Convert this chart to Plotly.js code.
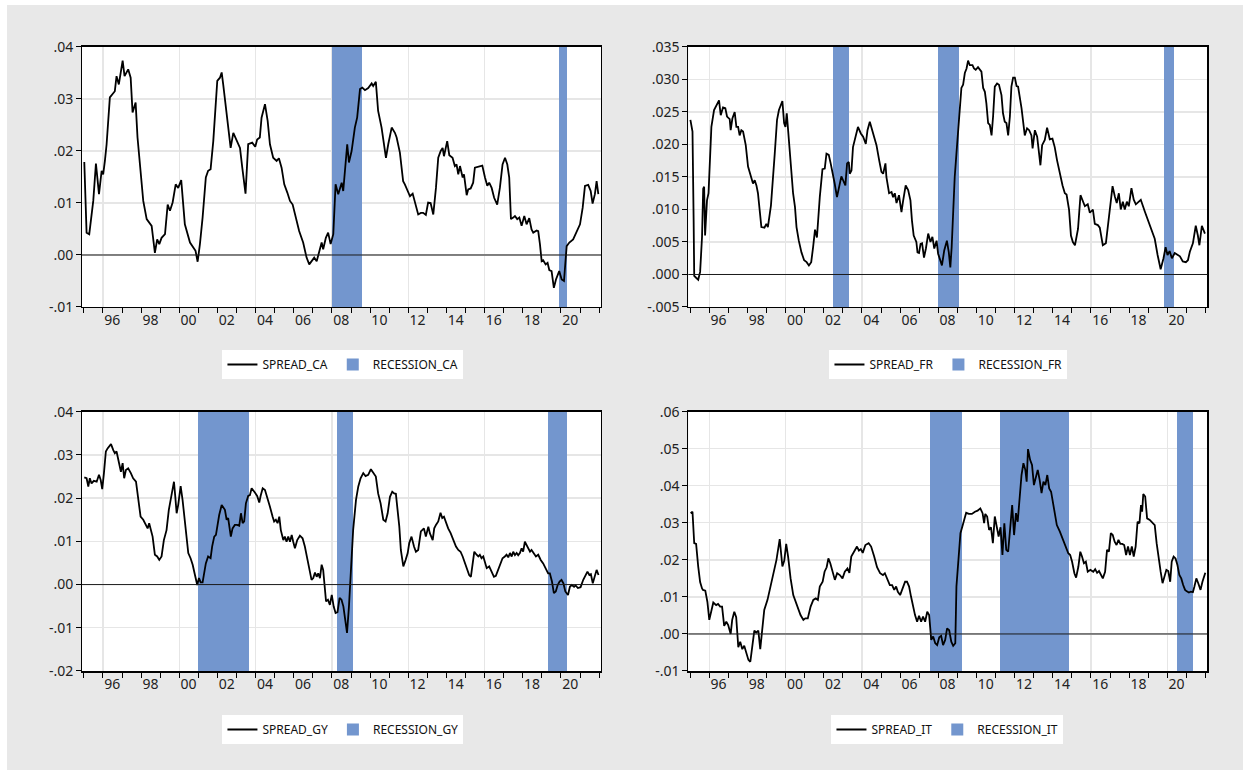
<!DOCTYPE html>
<html><head><meta charset="utf-8">
<script src="https://cdn.plot.ly/plotly-3.0.1.min.js"></script>
<style>
html,body{margin:0;padding:0;background:#fff;width:1250px;height:772px;overflow:hidden}
#chart{position:absolute;left:7px;top:5px;width:1236px;height:765px}
</style></head><body><div id="chart"></div>
<script>
// ---------- tick labels ----------
const yearTicks = [1995,1996,1997,1998,1999,2000,2001,2002,2003,2004,2005,2006,2007,2008,2009,2010,2011,2012,2013,2014,2015,2016,2017,2018,2019,2020,2021,2022];
const yearLabels = ['','96','','98','','00','','02','','04','','06','','08','','10','','12','','14','','16','','18','','20','',''];
const gridYears = [1996,2000,2004,2008,2012,2016,2020];

const yTicks_CA = [-0.01,0,0.01,0.02,0.03,0.04];
const yText_CA  = ['-.01','.00','.01','.02','.03','.04'];
const yTicks_FR = [-0.005,0,0.005,0.01,0.015,0.02,0.025,0.03,0.035];
const yText_FR  = ['-.005','.000','.005','.010','.015','.020','.025','.030','.035'];
const yTicks_GY = [-0.02,-0.01,0,0.01,0.02,0.03,0.04];
const yText_GY  = ['-.02','-.01','.00','.01','.02','.03','.04'];
const yTicks_IT = [-0.01,0,0.01,0.02,0.03,0.04,0.05,0.06];
const yText_IT  = ['-.01','.00','.01','.02','.03','.04','.05','.06'];

// ---------- recession periods (first month, last month) ----------
const recession_CA = [['2008-01','2009-07'],['2019-12','2020-04']];
const recession_FR = [['2002-07','2003-04'],['2008-01','2009-01'],['2019-11','2020-04']];
const recession_GY = [['2001-01','2003-08'],['2008-04','2009-01'],['2019-05','2020-04']];
const recession_IT = [['2007-08','2009-03'],['2011-04','2014-10'],['2020-07','2021-04']];

// ---------- spreads (time in years, value) ----------
const t_CA = [1995.02,1995.14,1995.28,1995.49,1995.63,1995.79,1995.93,1996.01,1996.10,1996.19,
1996.36,1996.62,1996.71,1996.83,1997.03,1997.13,1997.32,1997.45,1997.55,1997.71,
1997.81,1997.93,1998.11,1998.29,1998.55,1998.72,1998.84,1998.95,1999.07,1999.25,
1999.39,1999.51,1999.65,1999.81,1999.94,2000.10,2000.19,2000.29,2000.56,2000.73,
2000.85,2000.96,2001.08,2001.22,2001.34,2001.39,2001.51,2001.64,2001.78,2001.92,
2001.99,2002.13,2002.22,2002.30,2002.48,2002.69,2002.83,2003.03,2003.18,2003.30,
2003.47,2003.61,2003.82,2003.98,2004.08,2004.22,2004.31,2004.49,2004.63,2004.75,
2004.92,2005.10,2005.22,2005.36,2005.50,2005.66,2005.80,2005.94,2006.11,2006.28,
2006.49,2006.67,2006.81,2006.93,2007.07,2007.20,2007.32,2007.46,2007.54,2007.68,
2007.80,2007.93,2008.07,2008.19,2008.33,2008.51,2008.59,2008.80,2008.89,2009.03,
2009.20,2009.32,2009.47,2009.59,2009.73,2009.90,2010.08,2010.16,2010.30,2010.42,
2010.60,2010.83,2010.95,2011.13,2011.30,2011.39,2011.56,2011.73,2011.82,2012.00,
2012.09,2012.23,2012.35,2012.52,2012.66,2012.78,2012.92,2013.04,2013.17,2013.31,
2013.45,2013.57,2013.70,2013.80,2013.87,2013.97,2014.04,2014.15,2014.32,2014.44,
2014.53,2014.62,2014.71,2014.85,2014.92,2015.06,2015.14,2015.27,2015.40,2015.49,
2015.61,2015.75,2015.88,2016.02,2016.14,2016.24,2016.37,2016.50,2016.66,2016.80,
2016.94,2017.07,2017.19,2017.29,2017.38,2017.50,2017.59,2017.71,2017.82,2017.94,
2018.08,2018.20,2018.34,2018.46,2018.55,2018.73,2018.81,2018.90,2018.99,2019.07,
2019.20,2019.30,2019.39,2019.51,2019.63,2019.74,2019.91,2020.04,2020.16,2020.30,
2020.44,2020.64,2020.82,2021.00,2021.14,2021.26,2021.43,2021.56,2021.66,2021.78,
2021.87,2021.96];
const spread_CA = [.0179,.0043,.0040,.0104,.0176,.0117,.0162,.0155,.0181,.0213,
.0303,.0315,.0344,.0328,.0374,.0344,.0357,.0341,.0274,.0293,
.0226,.0181,.0104,.0069,.0056,.0004,.0030,.0021,.0033,.0040,
.0097,.0085,.0101,.0136,.0129,.0144,.0100,.0059,.0024,.0014,
.0008,-.0013,.0021,.0072,.0142,.0149,.0162,.0165,.0219,.0296,
.0335,.0341,.0351,.0328,.0271,.0206,.0235,.0219,.0206,.0168,
.0118,.0213,.0216,.0208,.0222,.0226,.0264,.0290,.0258,.0213,
.0187,.0181,.0186,.0168,.0136,.0120,.0104,.0097,.0072,.0046,
.0024,-.0005,-.0018,-.0012,-.0005,-.0012,.0004,.0024,.0011,.0033,
.0043,.0021,.0040,.0136,.0117,.0139,.0123,.0213,.0178,.0200,
.0245,.0264,.0319,.0322,.0317,.0321,.0330,.0325,.0333,.0277,
.0245,.0187,.0213,.0245,.0235,.0226,.0197,.0142,.0136,.0120,
.0113,.0118,.0101,.0078,.0081,.0081,.0077,.0101,.0100,.0078,
.0129,.0187,.0200,.0206,.0190,.0210,.0219,.0192,.0187,.0171,
.0174,.0155,.0171,.0149,.0155,.0115,.0126,.0128,.0139,.0168,
.0169,.0171,.0172,.0149,.0133,.0139,.0129,.0110,.0097,.0129,
.0174,.0187,.0174,.0149,.0069,.0072,.0075,.0069,.0072,.0056,
.0075,.0059,.0071,.0049,.0043,.0047,.0046,.0021,-.0012,-.0010,
-.0018,-.0015,-.0029,-.0031,-.0063,-.0047,-.0031,-.0047,-.0050,.0017,
.0024,.0030,.0046,.0059,.0091,.0133,.0135,.0123,.0099,.0117,
.0142,.0117];

const t_FR = [1995.01,1995.12,1995.18,1995.21,1995.31,1995.42,1995.52,1995.62,1995.68,1995.73,
1995.78,1995.88,1995.96,1996.03,1996.11,1996.25,1996.37,1996.51,1996.60,1996.72,
1996.84,1996.93,1997.07,1997.12,1997.21,1997.33,1997.42,1997.51,1997.59,1997.68,
1997.77,1997.91,1998.03,1998.17,1998.29,1998.38,1998.47,1998.55,1998.68,1998.73,
1998.89,1998.99,1999.07,1999.23,1999.43,1999.55,1999.65,1999.78,1999.83,1999.92,
1999.99,2000.06,2000.13,2000.25,2000.39,2000.49,2000.57,2000.69,2000.83,2000.97,
2001.10,2001.22,2001.34,2001.44,2001.54,2001.64,2001.73,2001.79,2001.93,2002.05,
2002.14,2002.26,2002.36,2002.48,2002.57,2002.69,2002.80,2002.92,2003.01,2003.13,
2003.22,2003.31,2003.36,2003.45,2003.53,2003.67,2003.79,2003.94,2004.06,2004.20,
2004.29,2004.41,2004.53,2004.63,2004.76,2004.90,2005.02,2005.11,2005.23,2005.28,
2005.42,2005.55,2005.63,2005.72,2005.81,2005.94,2006.07,2006.15,2006.29,2006.42,
2006.54,2006.62,2006.71,2006.85,2006.91,2006.99,2007.07,2007.15,2007.25,2007.35,
2007.47,2007.59,2007.69,2007.79,2007.91,2007.99,2008.09,2008.19,2008.31,2008.45,
2008.55,2008.63,2008.70,2008.76,2008.82,2008.86,2008.95,2009.09,2009.21,2009.30,
2009.39,2009.48,2009.56,2009.65,2009.79,2009.87,2009.96,2010.08,2010.17,2010.26,
2010.35,2010.44,2010.52,2010.61,2010.70,2010.79,2010.87,2010.96,2011.08,2011.18,
2011.31,2011.39,2011.48,2011.57,2011.66,2011.75,2011.83,2011.92,2012.01,2012.10,
2012.18,2012.36,2012.53,2012.65,2012.76,2012.88,2012.94,2013.06,2013.18,2013.27,
2013.35,2013.44,2013.58,2013.70,2013.84,2013.98,2014.10,2014.22,2014.37,2014.51,
2014.63,2014.72,2014.85,2014.95,2015.05,2015.16,2015.32,2015.45,2015.68,2015.83,
2015.94,2016.10,2016.20,2016.36,2016.46,2016.62,2016.78,2016.88,2016.99,2017.13,
2017.25,2017.35,2017.46,2017.56,2017.67,2017.77,2017.88,2017.98,2018.12,2018.24,
2018.35,2018.51,2018.61,2018.82,2018.98,2019.13,2019.34,2019.49,2019.65,2019.80,
2019.91,2020.01,2020.12,2020.24,2020.39,2020.55,2020.66,2020.81,2020.97,2021.08,
2021.18,2021.34,2021.49,2021.60,2021.68,2021.81,2021.97];
const spread_FR = [.0238,.0220,.0083,-.0002,-.0005,-.0008,.0004,.0058,.0132,.0135,
.0060,.0114,.0125,.0176,.0227,.0253,.0261,.0268,.0245,.0257,
.0256,.0243,.0239,.0222,.0240,.0250,.0227,.0227,.0214,.0222,
.0220,.0199,.0166,.0153,.0140,.0145,.0137,.0125,.0094,.0073,
.0072,.0078,.0073,.0106,.0186,.0238,.0253,.0266,.0267,.0233,
.0227,.0248,.0222,.0176,.0125,.0104,.0073,.0052,.0034,.0022,
.0019,.0014,.0019,.0042,.0069,.0057,.0104,.0119,.0162,.0163,
.0186,.0184,.0171,.0155,.0140,.0119,.0135,.0151,.0145,.0137,
.0171,.0173,.0155,.0160,.0196,.0212,.0227,.0217,.0212,.0201,
.0222,.0235,.0222,.0209,.0199,.0176,.0158,.0155,.0171,.0150,
.0125,.0127,.0119,.0125,.0110,.0122,.0096,.0112,.0137,.0130,
.0114,.0083,.0060,.0050,.0034,.0033,.0047,.0048,.0026,.0040,
.0063,.0050,.0058,.0040,.0052,.0032,.0023,.0014,.0037,.0052,
.0034,.0011,.0042,.0094,.0145,.0150,.0186,.0248,.0287,.0292,
.0310,.0317,.0329,.0322,.0322,.0317,.0315,.0319,.0316,.0312,
.0287,.0281,.0263,.0233,.0230,.0214,.0243,.0289,.0294,.0292,
.0276,.0248,.0235,.0233,.0214,.0243,.0289,.0303,.0303,.0290,
.0289,.0256,.0214,.0225,.0222,.0214,.0194,.0222,.0212,.0184,
.0168,.0199,.0207,.0226,.0208,.0209,.0196,.0176,.0153,.0137,
.0125,.0123,.0100,.0060,.0050,.0045,.0070,.0122,.0105,.0108,
.0095,.0100,.0078,.0076,.0072,.0045,.0048,.0075,.0100,.0136,
.0120,.0110,.0125,.0100,.0112,.0100,.0112,.0105,.0133,.0115,
.0108,.0112,.0115,.0097,.0085,.0072,.0055,.0030,.0008,.0025,
.0042,.0030,.0036,.0025,.0033,.0030,.0028,.0020,.0019,.0022,
.0035,.0048,.0075,.0060,.0045,.0075,.0063];

const t_GY = [1995.02,1995.14,1995.23,1995.31,1995.40,1995.52,1995.67,1995.79,1995.88,1995.96,
1996.05,1996.15,1996.24,1996.33,1996.42,1996.54,1996.62,1996.71,1996.83,1996.94,
1997.03,1997.11,1997.20,1997.32,1997.46,1997.58,1997.73,1997.85,1997.97,1998.11,
1998.25,1998.34,1998.42,1998.51,1998.60,1998.72,1998.84,1998.95,1999.07,1999.19,
1999.33,1999.45,1999.60,1999.72,1999.79,1999.86,1999.94,2000.07,2000.17,2000.26,
2000.38,2000.47,2000.59,2000.70,2000.82,2000.94,2001.03,2001.12,2001.22,2001.31,
2001.39,2001.51,2001.64,2001.72,2001.83,2001.92,2002.01,2002.09,2002.22,2002.30,
2002.39,2002.48,2002.56,2002.65,2002.70,2002.79,2002.91,2003.03,2003.14,2003.23,
2003.32,2003.40,2003.49,2003.61,2003.70,2003.79,2003.87,2003.96,2004.08,2004.19,
2004.26,2004.37,2004.49,2004.61,2004.75,2004.89,2004.97,2005.06,2005.15,2005.24,
2005.32,2005.45,2005.53,2005.62,2005.71,2005.80,2005.89,2005.97,2006.06,2006.18,
2006.32,2006.46,2006.58,2006.72,2006.84,2006.93,2007.02,2007.11,2007.20,2007.28,
2007.37,2007.46,2007.54,2007.63,2007.69,2007.79,2007.89,2007.99,2008.09,2008.19,
2008.29,2008.40,2008.50,2008.60,2008.70,2008.79,2008.89,2008.99,2009.11,2009.26,
2009.38,2009.50,2009.64,2009.76,2009.90,2010.04,2010.16,2010.30,2010.42,2010.55,
2010.69,2010.81,2010.92,2011.04,2011.16,2011.26,2011.35,2011.44,2011.53,2011.61,
2011.74,2011.86,2011.97,2012.05,2012.17,2012.30,2012.40,2012.52,2012.66,2012.82,
2012.92,2013.05,2013.13,2013.28,2013.36,2013.45,2013.57,2013.69,2013.78,2013.87,
2013.97,2014.09,2014.22,2014.36,2014.50,2014.62,2014.74,2014.85,2014.97,2015.09,
2015.19,2015.28,2015.37,2015.46,2015.58,2015.67,2015.75,2015.84,2015.93,2016.02,
2016.11,2016.24,2016.37,2016.49,2016.59,2016.71,2016.84,2016.94,2017.06,2017.15,
2017.24,2017.33,2017.42,2017.50,2017.59,2017.68,2017.76,2017.85,2017.94,2018.02,
2018.11,2018.20,2018.29,2018.38,2018.46,2018.55,2018.69,2018.81,2018.94,2019.07,
2019.21,2019.33,2019.42,2019.53,2019.63,2019.73,2019.83,2019.93,2020.03,2020.13,
2020.23,2020.37,2020.47,2020.57,2020.69,2020.77,2020.89,2021.03,2021.17,2021.29,
2021.39,2021.49,2021.57,2021.67,2021.77,2021.87,2021.97];
const spread_GY = [.0248,.0246,.0227,.0246,.0234,.0240,.0238,.0254,.0242,.0221,
.0258,.0308,.0315,.0319,.0325,.0311,.0304,.0308,.0281,.0261,
.0281,.0246,.0265,.0269,.0258,.0246,.0238,.0196,.0157,.0150,
.0138,.0130,.0142,.0123,.0111,.0069,.0065,.0057,.0065,.0103,
.0126,.0173,.0215,.0238,.0203,.0165,.0184,.0228,.0196,.0157,
.0111,.0073,.0061,.0046,.0022,-.0001,.0015,.0005,.0005,.0026,
.0049,.0065,.0061,.0088,.0111,.0115,.0146,.0161,.0184,.0180,
.0173,.0150,.0154,.0126,.0111,.0130,.0138,.0138,.0136,.0165,
.0142,.0146,.0188,.0205,.0207,.0223,.0217,.0213,.0205,.0190,
.0205,.0223,.0219,.0203,.0180,.0157,.0146,.0150,.0142,.0157,
.0126,.0103,.0111,.0099,.0111,.0099,.0115,.0099,.0084,.0103,
.0113,.0107,.0088,.0057,.0030,.0011,.0015,.0028,.0018,.0026,
.0015,.0046,.0034,-.0012,-.0039,-.0035,-.0047,-.0024,-.0051,-.0066,
-.0064,-.0031,-.0035,-.0051,-.0086,-.0112,-.0051,.0018,.0126,.0196,
.0227,.0246,.0258,.0251,.0254,.0267,.0258,.0250,.0211,.0188,
.0150,.0146,.0165,.0203,.0215,.0211,.0210,.0173,.0134,.0080,
.0042,.0057,.0073,.0096,.0111,.0088,.0076,.0080,.0123,.0130,
.0111,.0134,.0119,.0103,.0130,.0138,.0146,.0166,.0154,.0157,
.0142,.0130,.0119,.0103,.0088,.0080,.0076,.0065,.0049,.0034,
.0022,.0018,.0049,.0076,.0069,.0065,.0069,.0061,.0065,.0049,
.0038,.0042,.0030,.0018,.0020,.0034,.0049,.0061,.0065,.0069,
.0063,.0073,.0065,.0076,.0068,.0073,.0068,.0073,.0084,.0076,
.0099,.0092,.0084,.0076,.0080,.0073,.0065,.0069,.0057,.0049,
.0038,.0026,.0026,.0007,-.0020,-.0016,-.0001,.0007,.0011,.0003,
-.0016,-.0024,-.0005,-.0001,-.0005,-.0002,-.0008,-.0006,.0011,.0022,
.0030,.0022,.0024,.0003,.0022,.0034,.0022];

const t_IT = [1995.02,1995.12,1995.21,1995.31,1995.42,1995.52,1995.62,1995.67,1995.79,1995.90,
1996.00,1996.11,1996.21,1996.36,1996.46,1996.57,1996.67,1996.78,1996.89,1996.99,
1997.12,1997.20,1997.31,1997.41,1997.52,1997.62,1997.73,1997.83,1997.94,1998.05,
1998.15,1998.25,1998.36,1998.46,1998.57,1998.67,1998.78,1998.88,1999.05,1999.20,
1999.35,1999.52,1999.69,1999.83,1999.93,2000.03,2000.13,2000.26,2000.40,2000.53,
2000.68,2000.78,2000.93,2001.03,2001.16,2001.31,2001.45,2001.58,2001.69,2001.79,
2001.94,2002.04,2002.15,2002.24,2002.34,2002.44,2002.58,2002.70,2002.84,2002.98,
2003.10,2003.24,2003.34,2003.44,2003.58,2003.74,2003.84,2003.94,2004.04,2004.18,
2004.35,2004.48,2004.64,2004.79,2004.95,2005.10,2005.20,2005.31,2005.46,2005.58,
2005.69,2005.79,2005.88,2006.00,2006.15,2006.26,2006.36,2006.47,2006.57,2006.68,
2006.78,2006.89,2006.99,2007.10,2007.20,2007.31,2007.42,2007.52,2007.63,2007.73,
2007.84,2007.94,2008.05,2008.15,2008.25,2008.36,2008.46,2008.57,2008.68,2008.78,
2008.89,2008.95,2009.06,2009.16,2009.26,2009.36,2009.46,2009.60,2009.76,2009.92,
2010.06,2010.20,2010.32,2010.40,2010.46,2010.56,2010.66,2010.76,2010.86,2010.96,
2011.06,2011.16,2011.26,2011.36,2011.46,2011.56,2011.66,2011.77,2011.87,2011.97,
2012.07,2012.16,2012.26,2012.36,2012.46,2012.56,2012.63,2012.70,2012.81,2012.91,
2013.01,2013.11,2013.21,2013.31,2013.41,2013.51,2013.61,2013.71,2013.81,2013.91,
2014.01,2014.11,2014.21,2014.37,2014.53,2014.67,2014.81,2014.91,2015.01,2015.13,
2015.22,2015.34,2015.44,2015.53,2015.63,2015.73,2015.83,2015.97,2016.12,2016.22,
2016.32,2016.42,2016.54,2016.62,2016.74,2016.84,2016.94,2017.04,2017.14,2017.24,
2017.34,2017.44,2017.54,2017.64,2017.74,2017.84,2017.94,2018.04,2018.14,2018.24,
2018.34,2018.44,2018.54,2018.62,2018.68,2018.74,2018.84,2018.94,2019.08,2019.22,
2019.34,2019.44,2019.54,2019.65,2019.75,2019.85,2019.95,2020.05,2020.15,2020.23,
2020.33,2020.43,2020.53,2020.63,2020.73,2020.83,2020.93,2021.02,2021.13,2021.23,
2021.34,2021.42,2021.52,2021.62,2021.74,2021.84,2021.94,2021.99];
const spread_IT = [.0326,.0330,.0245,.0243,.0182,.0140,.0123,.0119,.0117,.0087,
.0038,.0060,.0085,.0078,.0081,.0074,.0074,.0022,.0033,.0024,
.0000,.0038,.0060,.0045,-.0036,-.0021,-.0041,-.0032,-.0048,-.0070,
-.0075,-.0039,.0009,.0004,.0009,-.0041,.0020,.0065,.0092,.0128,
.0164,.0200,.0256,.0182,.0198,.0243,.0209,.0150,.0105,.0087,
.0065,.0051,.0038,.0042,.0042,.0074,.0092,.0096,.0092,.0128,
.0141,.0168,.0180,.0204,.0191,.0173,.0146,.0164,.0159,.0150,
.0168,.0177,.0165,.0209,.0222,.0236,.0225,.0229,.0219,.0240,
.0245,.0236,.0209,.0180,.0164,.0159,.0164,.0150,.0132,.0132,
.0119,.0128,.0114,.0105,.0128,.0141,.0141,.0128,.0101,.0074,
.0051,.0033,.0049,.0033,.0047,.0033,.0060,.0051,-.0016,-.0007,
-.0025,-.0030,-.0009,-.0005,-.0030,-.0016,.0015,.0010,-.0021,-.0032,
-.0025,.0128,.0209,.0272,.0290,.0312,.0327,.0324,.0324,.0330,
.0333,.0339,.0326,.0299,.0324,.0317,.0281,.0288,.0245,.0317,
.0290,.0263,.0288,.0213,.0299,.0227,.0222,.0285,.0348,.0267,
.0326,.0303,.0371,.0429,.0461,.0443,.0411,.0499,.0470,.0456,
.0402,.0420,.0443,.0416,.0380,.0411,.0402,.0429,.0393,.0384,
.0353,.0321,.0294,.0276,.0254,.0240,.0218,.0213,.0195,.0164,
.0152,.0182,.0222,.0209,.0191,.0195,.0168,.0173,.0168,.0175,
.0165,.0170,.0155,.0150,.0168,.0227,.0222,.0272,.0267,.0249,
.0240,.0254,.0243,.0243,.0240,.0213,.0236,.0213,.0236,.0209,
.0236,.0303,.0299,.0348,.0330,.0378,.0371,.0312,.0308,.0299,
.0294,.0245,.0200,.0168,.0137,.0155,.0173,.0170,.0141,.0195,
.0209,.0204,.0186,.0159,.0150,.0132,.0119,.0115,.0112,.0114,
.0113,.0128,.0150,.0137,.0119,.0141,.0159,.0165];

// ---------- helpers ----------
function monthlyIndicator(periods){
  const xs = [], ys = [];
  periods.forEach(function(p){
    let [sy, sm] = p[0].split('-').map(Number);
    const [ey, em] = p[1].split('-').map(Number);
    while (sy < ey || (sy === ey && sm <= em)) {
      xs.push(sy + (sm - 0.5) / 12); ys.push(1);
      sm++; if (sm > 12) { sm = 1; sy++; }
    }
  });
  return {xs: xs, ys: ys};
}

const FONT = 'Noto Sans, DejaVu Sans, sans-serif';
const GRID = '#e6e6e6';
const BAR = '#7396ce';

const panels = [
  {code:'CA', t:t_CA, v:spread_CA, rec:recession_CA, tv:yTicks_CA, tt:yText_CA, range:[-0.01,0.04],
   dx:[0.06068,0.48058], dy:[0.60523,0.94510], lx:0.2718, ly:0.5490},
  {code:'FR', t:t_FR, v:spread_FR, rec:recession_FR, tv:yTicks_FR, tt:yText_FR, range:[-0.005,0.035],
   dx:[0.55121,0.97120], dy:[0.60523,0.94510], lx:0.7617, ly:0.5490},
  {code:'GY', t:t_GY, v:spread_GY, rec:recession_GY, tv:yTicks_GY, tt:yText_GY, range:[-0.02,0.04],
   dx:[0.06068,0.48058], dy:[0.12941,0.46837], lx:0.2718, ly:0.0719},
  {code:'IT', t:t_IT, v:spread_IT, rec:recession_IT, tv:yTicks_IT, tt:yText_IT, range:[-0.01,0.06],
   dx:[0.55121,0.97120], dy:[0.12941,0.46837], lx:0.7609, ly:0.0719}
];

const data = [];
const layout = {
  width:1236, height:765,
  margin:{l:0,r:0,t:0,b:0},
  paper_bgcolor:'#e8e8e8', plot_bgcolor:'#ffffff',
  showlegend:true, shapes:[], bargap:0,
  font:{family:FONT, color:'#222'}
};

panels.forEach(function(p, k){
  const i = k + 1;
  const xs = i === 1 ? '' : String(i);
  const yb = i === 1 ? '' : String(i);   // bar axis
  const yl = String(i + 4);              // line axis (overlay)
  const leg = i === 1 ? 'legend' : 'legend' + i;
  const ind = monthlyIndicator(p.rec);

  data.push({
    type:'bar', x:ind.xs, y:ind.ys, width:1/12,
    xaxis:'x'+xs, yaxis:'y'+yb,
    marker:{color:BAR, line:{width:0}},
    name:'RECESSION_'+p.code, legend:leg, legendrank:2, hoverinfo:'skip'
  });
  data.push({
    type:'scatter', mode:'lines', x:p.t, y:p.v,
    xaxis:'x'+xs, yaxis:'y'+yl,
    line:{color:'#000', width:1.8},
    name:'SPREAD_'+p.code, legend:leg, legendrank:1
  });

  layout['xaxis'+xs] = {
    domain:p.dx, anchor:'y'+yb, range:[1994.9,2022.1],
    tickmode:'array', tickvals:yearTicks, ticktext:yearLabels,
    ticks:'outside', ticklen:5, tickwidth:1, tickcolor:'#000',
    ticklabelposition:'outside right',
    showgrid:false, zeroline:false,
    showline:true, mirror:true, linecolor:'#000', linewidth:1.5,
    tickfont:{family:FONT, size:14, color:'#222'},
    minor:{tickmode:'array', tickvals:gridYears, ticks:'inside', ticklen:0,
           showgrid:true, gridcolor:GRID, gridwidth:1.3},
    fixedrange:true
  };
  layout['yaxis'+yb] = {
    domain:p.dy, anchor:'x'+xs, range:[0,1],
    showticklabels:false, ticks:'', showgrid:false, zeroline:false,
    showline:true, mirror:true, linecolor:'#000', linewidth:1.5,
    fixedrange:true
  };
  layout['yaxis'+yl] = {
    overlaying:'y'+yb, anchor:'x'+xs, side:'left', range:p.range,
    tickmode:'array', tickvals:p.tv, ticktext:p.tt,
    ticks:'outside', ticklen:5, tickwidth:1, tickcolor:'#000',
    showgrid:true, gridcolor:GRID, gridwidth:1.3,
    zeroline:false, showline:false,
    tickfont:{family:FONT, size:14, color:'#222'},
    fixedrange:true
  };
  layout.shapes.push({
    type:'line', xref:'x'+xs+' domain', yref:'y'+yl,
    x0:0, x1:1, y0:0, y1:0, layer:'above',
    line:{color:'#1a1a1a', width:1}
  });
  layout[leg] = {
    orientation:'h', x:p.lx, xanchor:'center', y:p.ly, yanchor:'top',
    bgcolor:'#ffffff', borderwidth:0, traceorder:'normal',
    font:{family:FONT, size:12, color:'#111'}, itemclick:false, itemdoubleclick:false
  };
});

Plotly.newPlot('chart', data, layout, {displayModeBar:false, staticPlot:true});
</script></body></html>
